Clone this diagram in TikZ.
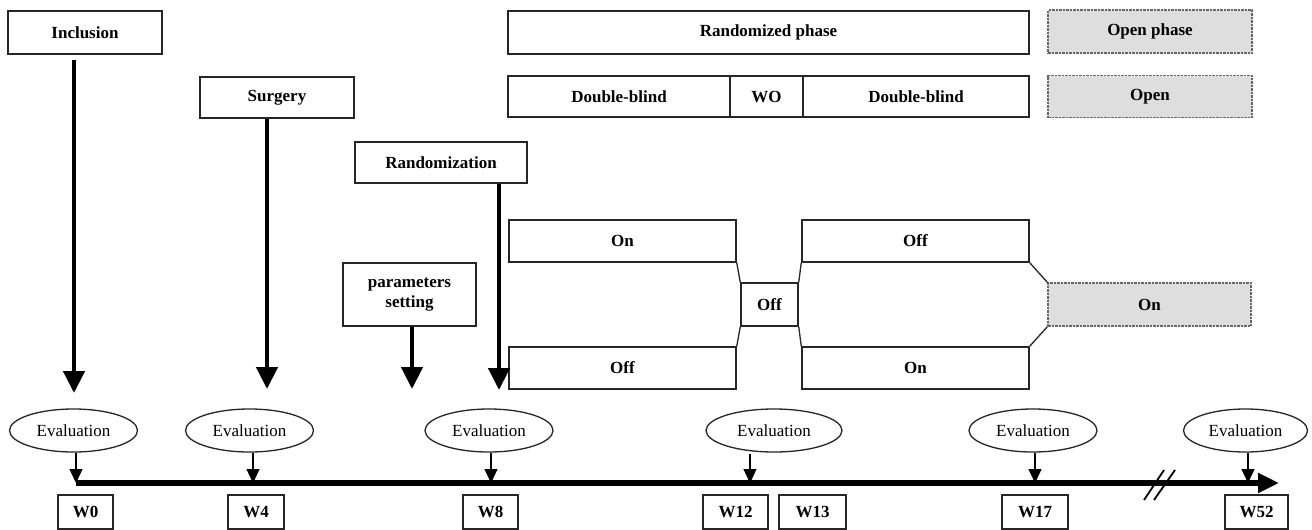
\documentclass[tikz,border=0pt]{standalone}
\usepackage{fontspec}
\setmainfont{Liberation Serif}
\usetikzlibrary{arrows.meta,shapes.geometric}
\begin{document}
\begin{tikzpicture}[x=1pt,y=-1pt,
 box/.style={draw=black!85, line width=1.5pt, inner sep=0pt, font=\bfseries\fontsize{17}{20}\selectfont, fill=white},
 graybox/.style={box, draw=black!60, fill={rgb,255:red,222;green,222;blue,222}, dash pattern=on 2.5pt off 1pt, line width=1.2pt},
 evalnode/.style={ellipse, draw=black!85, line width=1.3pt, minimum width=128pt, minimum height=43pt, inner sep=0pt, font=\fontsize{17}{20}\selectfont},
 wbox/.style={box, minimum height=34pt},
 bigarrow/.style={line width=4.5pt, -{Triangle[length=22pt,width=21pt]}},
 smallarrow/.style={line width=1.3pt, -{Triangle[length=14pt,width=13pt]}},
 axisarrow/.style={line width=5.5pt, -{Triangle[length=21pt,width=19pt]}},
 link/.style={line width=1.3pt, draw=black!85}
]
\fill[white] (0,0) rectangle (1312,530);
\useasboundingbox (0,0) rectangle (1312,530);

% top boxes
\node[box, minimum width=154pt, minimum height=43pt] (incl) at (85,32.5) {Inclusion};
\node[box, minimum width=154pt, minimum height=41pt] (surg) at (277,97.5) {Surgery};
\node[box, minimum width=172pt, minimum height=41pt] (rand) at (441,162.5) {Randomization};
\node[box, minimum width=133pt, minimum height=63pt, align=center] (param) at (409.5,294.5) {parameters\\setting};

\node[box, minimum width=521pt, minimum height=43pt] (rphase) at (768.5,32.5) {Randomized phase};
\node[graybox, minimum width=204pt, minimum height=43pt] (ophase) at (1150,31.5) {Open phase};
\node[box, minimum width=222pt, minimum height=41pt] (db1) at (619,96.5) {Double-blind};
\node[box, minimum width=73pt, minimum height=41pt] (wo) at (766.5,96.5) {WO};
\node[box, minimum width=226pt, minimum height=41pt] (db2) at (916,96.5) {Double-blind};
\node[graybox, minimum width=204pt, minimum height=42pt] (open) at (1150,96.5) {Open};

% on / off arms
\node[box, minimum width=227pt, minimum height=42pt] (on1) at (622.5,241) {On};
\node[box, minimum width=227pt, minimum height=42pt] (off1) at (622.5,368) {Off};
\node[box, minimum width=57pt, minimum height=43pt] (offm) at (769.5,304.5) {Off};
\node[box, minimum width=227pt, minimum height=42pt] (off2) at (915.5,241) {Off};
\node[box, minimum width=227pt, minimum height=42pt] (on2) at (915.5,368) {On};
\node[graybox, minimum width=203pt, minimum height=43pt] (ong) at (1149.5,304.5) {On};

\draw[link] (on1.south east) -- (offm.north west);
\draw[link] (off1.north east) -- (offm.south west);
\draw[link] (offm.north east) -- (off2.south west);
\draw[link] (offm.south east) -- (on2.north west);
\draw[link] (off2.south east) -- (ong.north west);
\draw[link] (on2.north east) -- (ong.south west);

% big arrows
\coordinate (tinc) at (74,393);
\coordinate (tsurg) at (267,389);
\coordinate (tparam) at (412,389);
\coordinate (trand) at (499,390);
\draw[bigarrow] ([yshift=-5pt]incl.south -| tinc) -- (tinc);
\draw[bigarrow] (surg.south -| tsurg) -- (tsurg);
\draw[bigarrow] (param.south -| tparam) -- (tparam);
\draw[bigarrow] (rand.south -| trand) -- (trand);

% evaluations
\node[evalnode] (e0) at (73.5,430.5) {Evaluation};
\node[evalnode] (e4) at (249.5,430.5) {Evaluation};
\node[evalnode] (e8) at (489,430.5) {Evaluation};
\node[evalnode, minimum width=136pt] (e12) at (774,430.5) {Evaluation};
\node[evalnode] (e17) at (1033,430.5) {Evaluation};
\node[evalnode, minimum width=124pt] (e52) at (1245.5,430.5) {Evaluation};

\coordinate (a0) at (76,483);
\coordinate (a4) at (253,483);
\coordinate (a8) at (491,483);
\coordinate (a12) at (750,483);
\coordinate (a17) at (1035,483);
\coordinate (a52) at (1248,483);
\coordinate (aend) at (1279,483);

\draw[smallarrow] (e0.south -| a0) -- (a0);
\draw[smallarrow] (e4.south -| a4) -- (a4);
\draw[smallarrow] (e8.south -| a8) -- (a8);
\draw[smallarrow] ([yshift=-1.3pt]e12.south -| a12) -- (a12);
\draw[smallarrow] (e17.south -| a17) -- (a17);
\draw[smallarrow] (e52.south -| a52) -- (a52);

% axis
\draw[axisarrow] (a0) -- (aend);
% break marks
\draw[line width=1.8pt] (1144,500) -- (1164,470);
\draw[line width=1.8pt] (1154,500) -- (1175,470);

% week boxes
\node[wbox, minimum width=55pt] (w0) at (85.5,512) {W0};
\node[wbox, minimum width=56pt] (w4) at (256,512) {W4};
\node[wbox, minimum width=55pt] (w8) at (490.5,512) {W8};
\node[wbox, minimum width=65pt] (w12) at (735.5,512) {W12};
\node[wbox, minimum width=67pt] (w13) at (812.5,512) {W13};
\node[wbox, minimum width=66pt] (w17) at (1035,512) {W17};
\node[wbox, minimum width=63pt] (w52) at (1256.5,512) {W52};
\end{tikzpicture}
\end{document}
